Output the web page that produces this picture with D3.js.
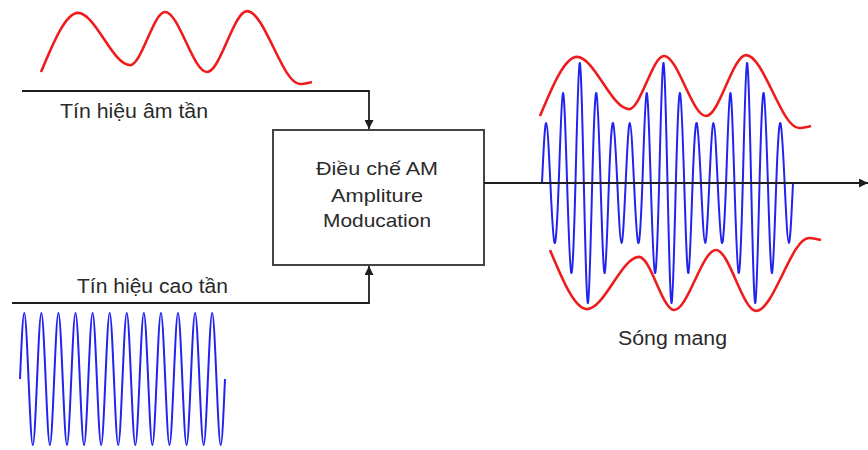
<!DOCTYPE html>
<html><head><meta charset="utf-8">
<script src="https://cdn.jsdelivr.net/npm/d3@7/dist/d3.min.js"></script>
<style>body{margin:0;background:#fff}svg{display:block}text{font-family:"Liberation Sans",Arial,sans-serif;fill:#2a2a2a}</style>
</head><body><svg id="c" width="868" height="450"></svg>
<script>
// Audio (modulating) signal: key points (time in audio periods, relative level)
const audioT = [0, 0.435, 1.047, 1.459, 1.953, 2.424, 3.047, 3.188];
const audioV = [-0.9, 1.07, -0.67, 1.1, -0.9, 1.13, -1.3, -1.23];
// Carrier: amplitude per cycle
const carrierAmp = [1, 1, 1, 1, 1, 1, 1, 1, 1, 1, 1, 1];
// Modulated wave: amplitude per carrier cycle
const amAmp = [0.5, 0.75, 1, 0.75, 0.5, 0.5, 0.75, 1, 0.75, 0.5, 0.5, 0.75, 1, 0.75, 0.5];
// Texts
const labelAudio = "Tín hiệu âm tần";
const labelCarrier = "Tín hiệu cao tần";
const labelOut = "Sóng mang";
const boxLines = ["Điều chế AM", "Ampliture", "Moducation"];

const svg = d3.select("#c");
const RED = "#ee1c1c", BLUE = "#2323f0", DARK = "#1e1e1e";

const defs = svg.append("defs");
defs.append("marker").attr("id", "arr").attr("viewBox", "0 0 10 10")
  .attr("refX", 10).attr("refY", 5).attr("markerWidth", 14).attr("markerHeight", 9)
  .attr("markerUnits", "userSpaceOnUse").attr("orient", "auto")
  .append("path").attr("d", "M0,0 L10,5 L0,10 Z").attr("fill", DARK);

function cyclePoints(amps) {
  const pts = [];
  amps.forEach((a, i) => {
    pts.push([i, 0], [i + 0.25, a], [i + 0.5, 0], [i + 0.75, -a]);
  });
  pts.push([amps.length, 0]);
  return pts;
}
const audioPts = audioT.map((t, i) => [t, audioV[i]]);

// ---- audio signal (top left)
const xA = d3.scaleLinear().domain([0, 1]).range([41, 126]);
const yA = d3.scaleLinear().domain([-1, 1]).range([75, 15]);
svg.append("path").attr("d", d3.line().x(d => xA(d[0])).y(d => yA(d[1])).curve(d3.curveMonotoneX)(audioPts))
  .attr("fill", "none").attr("stroke", RED).attr("stroke-width", 2.6);

// ---- carrier (bottom left)
const xC = d3.scaleLinear().domain([0, carrierAmp.length]).range([20, 225]);
const yC = d3.scaleLinear().domain([-1, 1]).range([445, 313]);
svg.append("path").attr("d", d3.line().x(d => xC(d[0])).y(d => yC(d[1])).curve(d3.curveNatural)(cyclePoints(carrierAmp)))
  .attr("fill", "none").attr("stroke", BLUE).attr("stroke-width", 2);

// ---- connector lines
svg.append("path").attr("d", "M22,91 H369 V129").attr("fill", "none").attr("stroke", DARK)
  .attr("stroke-width", 1.8).attr("marker-end", "url(#arr)");
svg.append("path").attr("d", "M12,303 H369 V266").attr("fill", "none").attr("stroke", DARK)
  .attr("stroke-width", 1.8).attr("marker-end", "url(#arr)");

// ---- box
svg.append("rect").attr("x", 273).attr("y", 130).attr("width", 211).attr("height", 135)
  .attr("fill", "#fff").attr("stroke", "#444").attr("stroke-width", 2);
const boxW = [122, 92, 108];
svg.selectAll("text.box").data(boxLines).enter().append("text").attr("class", "box")
  .attr("x", (d, i) => 377 - boxW[i] / 2).attr("y", (d, i) => [175, 202, 227][i])
  .attr("font-size", 19).attr("textLength", (d, i) => boxW[i]).attr("lengthAdjust", "spacingAndGlyphs")
  .text(d => d);

// ---- labels
function label(txt, x, y, w) {
  svg.append("text").attr("x", x).attr("y", y).attr("font-size", 20)
    .attr("textLength", w).attr("lengthAdjust", "spacingAndGlyphs").text(txt);
}
label(labelAudio, 60, 118, 148);
label(labelCarrier, 77, 293, 151);
label(labelOut, 618, 345, 109);

// ---- AM wave
const xM = d3.scaleLinear().domain([0, amAmp.length]).range([542, 793]);
const yM = d3.scaleLinear().domain([-1, 1]).range([303, 63]);
svg.append("path").attr("d", d3.line().x(d => xM(d[0])).y(d => yM(d[1])).curve(d3.curveNatural)(cyclePoints(amAmp)))
  .attr("fill", "none").attr("stroke", BLUE).attr("stroke-width", 2);

// envelopes
const xEU = d3.scaleLinear().domain([0, 1]).range([540, 625]);
const yEU = d3.scaleLinear().domain([-1, 1]).range([119, 59]);
const xEL = d3.scaleLinear().domain([0, 1]).range([550, 635]);
const yEL = d3.scaleLinear().domain([-1, 1]).range([247, 307]);
svg.append("path").attr("d", d3.line().x(d => xEU(d[0])).y(d => yEU(d[1])).curve(d3.curveMonotoneX)(audioPts))
  .attr("fill", "none").attr("stroke", RED).attr("stroke-width", 2.6);
svg.append("path").attr("d", d3.line().x(d => xEL(d[0])).y(d => yEL(d[1])).curve(d3.curveMonotoneX)(audioPts))
  .attr("fill", "none").attr("stroke", RED).attr("stroke-width", 2.6);

// output line
svg.append("path").attr("d", "M484,183 H868").attr("fill", "none").attr("stroke", DARK)
  .attr("stroke-width", 1.8).attr("marker-end", "url(#arr)");
</script></body></html>
